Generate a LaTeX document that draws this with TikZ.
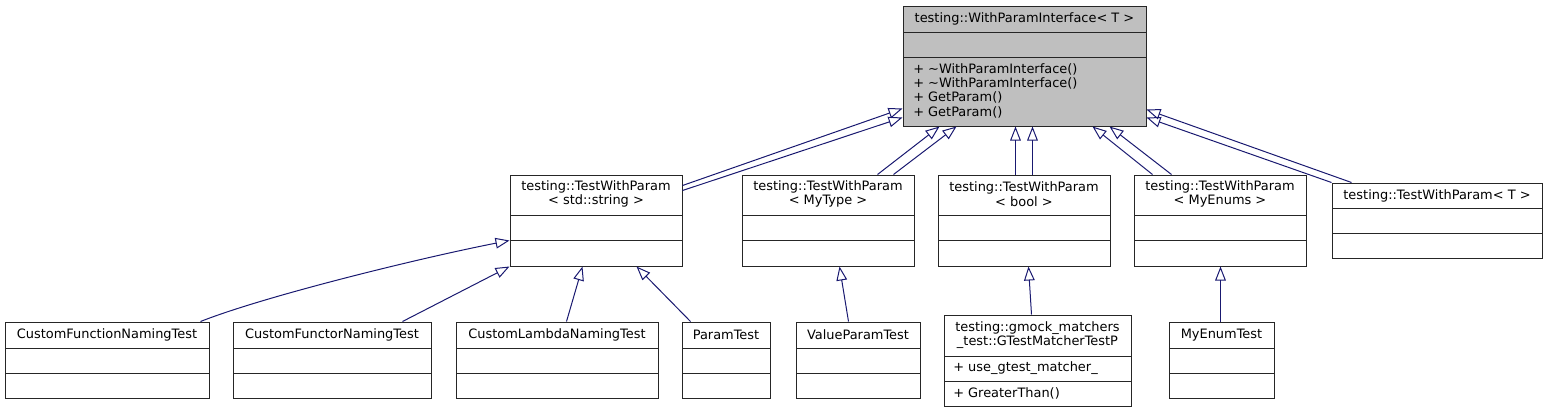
\documentclass[tikz,border=0pt]{standalone}
\usepackage{fontspec}
\newfontfamily\dejavu{DejaVu Sans}
\usetikzlibrary{arrows.meta,calc,fit}
\definecolor{edgeblue}{HTML}{191970}
\definecolor{ifacegray}{HTML}{BFBFBF}
\tikzset{
  cls/.style={draw=black!85, line width=0.75pt, inner sep=0pt},
  lbl/.style={font=\dejavu\fontsize{9.7}{10.8}\selectfont, inner sep=0pt, align=center},
  mbr/.style={lbl, anchor=west, align=left},
  inh/.style={draw=edgeblue, line width=0.75pt, -{Triangle[open, length=10.5pt, width=8pt]}},
}
% box with name row, attribute row and method row
\newcommand{\classbox}[8][white]{%
  \node[cls, fill=#1, fit={(#3,#4) (#5,#6)}] (#2) {};
  \draw[cls] (#3,#7) -- (#5,#7);
  \draw[cls] (#3,#8) -- (#5,#8);
}
\begin{document}
\begin{tikzpicture}[x=0.75pt, y=-0.75pt]
\useasboundingbox (0,0) rectangle (1547,412);
% classes
\classbox[ifacegray]{iface}{903}{6}{1146}{126}{32}{57}
\classbox{tpstr}{510}{175}{682}{266}{215}{240}
\classbox{tptype}{742}{175}{914}{266}{215}{240}
\classbox{tpbool}{938}{175}{1110}{266}{215}{240}
\classbox{tpenum}{1134}{175}{1306}{266}{215}{240}
\classbox{tpT}{1332}{183}{1542}{258}{208}{233}
\classbox{fnname}{5}{322}{209}{398}{348}{373}
\classbox{fctname}{233}{322}{431}{398}{348}{373}
\classbox{lamname}{456}{322}{658}{398}{348}{373}
\classbox{ptest}{682}{322}{770}{398}{348}{373}
\classbox{vptest}{796}{322}{920}{398}{348}{373}
\classbox{gmtest}{944}{315}{1131}{406}{356}{381}
\classbox{enumtest}{1169}{322}{1274}{398}{348}{373}
% texts
\node[lbl] (ifacename) at (1024.5,19) {testing::WithParamInterface< T >};
\node[mbr] (ifaceops) at (913,90.7) {+ \textasciitilde WithParamInterface()\\+ \textasciitilde WithParamInterface()\\+ GetParam()\\+ GetParam()};
\node[lbl] (tpstrname) at (596,194) {testing::TestWithParam\\< std::string >};
\node[lbl] (tptypename) at (828,194) {testing::TestWithParam\\< MyType >};
\node[lbl] (tpboolname) at (1024,194) {testing::TestWithParam\\< bool >};
\node[lbl] (tpenumname) at (1220,194) {testing::TestWithParam\\< MyEnums >};
\node[lbl] (tpTname) at (1437,196) {testing::TestWithParam< T >};
\node[lbl] (fnnamename) at (107,335) {CustomFunctionNamingTest};
\node[lbl] (fctnamename) at (332,335) {CustomFunctorNamingTest};
\node[lbl] (lamnamename) at (557,335) {CustomLambdaNamingTest};
\node[lbl] (ptestname) at (726,335) {ParamTest};
\node[lbl] (vptestname) at (858,335) {ValueParamTest};
\node[lbl] (gmtestname) at (1037.5,335) {testing::gmock\_matchers\\\_test::GTestMatcherTestP};
\node[mbr] (gmtestattr) at (953,368) {+ use\_gtest\_matcher\_};
\node[mbr] (gmtestops) at (953,393.5) {+ GreaterThan()};
\node[lbl] (enumtestname) at (1221.5,335) {MyEnumTest};
% inheritance to the interface
\draw[inh] ($(tpstr.north east)+(0,11)$) -- ($(iface.south west)+(0,-18)$);
\draw[inh] ($(tpstr.north east)+(0,16)$) -- ($(iface.south west)+(0,-9)$);
\draw[inh] ($(tptype.north west)+(136,0)$) -- ($(iface.south west)+(37,0)$);
\draw[inh] ($(tptype.north west)+(152,0)$) -- ($(iface.south west)+(54,0)$);
\draw[inh] ($(tpbool.north west)+(78,0)$) -- ($(iface.south west)+(113,0)$);
\draw[inh] ($(tpbool.north west)+(95,0)$) -- ($(iface.south west)+(130,0)$);
\draw[inh] ($(tpenum.north west)+(19,0)$) -- ($(iface.south west)+(190,0)$);
\draw[inh] ($(tpenum.north west)+(38,0)$) -- ($(iface.south west)+(207,0)$);
\draw[inh] (tpT.north west) -- ($(iface.south east)+(0,-9)$);
\draw[inh] ($(tpT.north west)+(20,0)$) -- ($(iface.south east)+(0,-17)$);
% tests
\draw[inh] ($(fnname.north east)+(-9,0)$) .. controls (265,296) and (420,258) .. ($(tpstr.south west)+(0,-26)$);
\draw[inh] ($(fctname.north west)+(170,0)$) -- (tpstr.south west);
\draw[inh] ($(lamname.north west)+(111,0)$) -- ($(tpstr.south west)+(73,0)$);
\draw[inh] ($(ptest.north west)+(9,0)$) -- ($(tpstr.south west)+(127,0)$);
\draw[inh] ($(vptest.north west)+(53,0)$) -- ($(tptype.south west)+(98,0)$);
\draw[inh] ($(gmtest.north west)+(88,0)$) -- ($(tpbool.south west)+(91,0)$);
\draw[inh] ($(enumtest.north west)+(52,0)$) -- ($(tpenum.south west)+(87,0)$);
\end{tikzpicture}
\end{document}
